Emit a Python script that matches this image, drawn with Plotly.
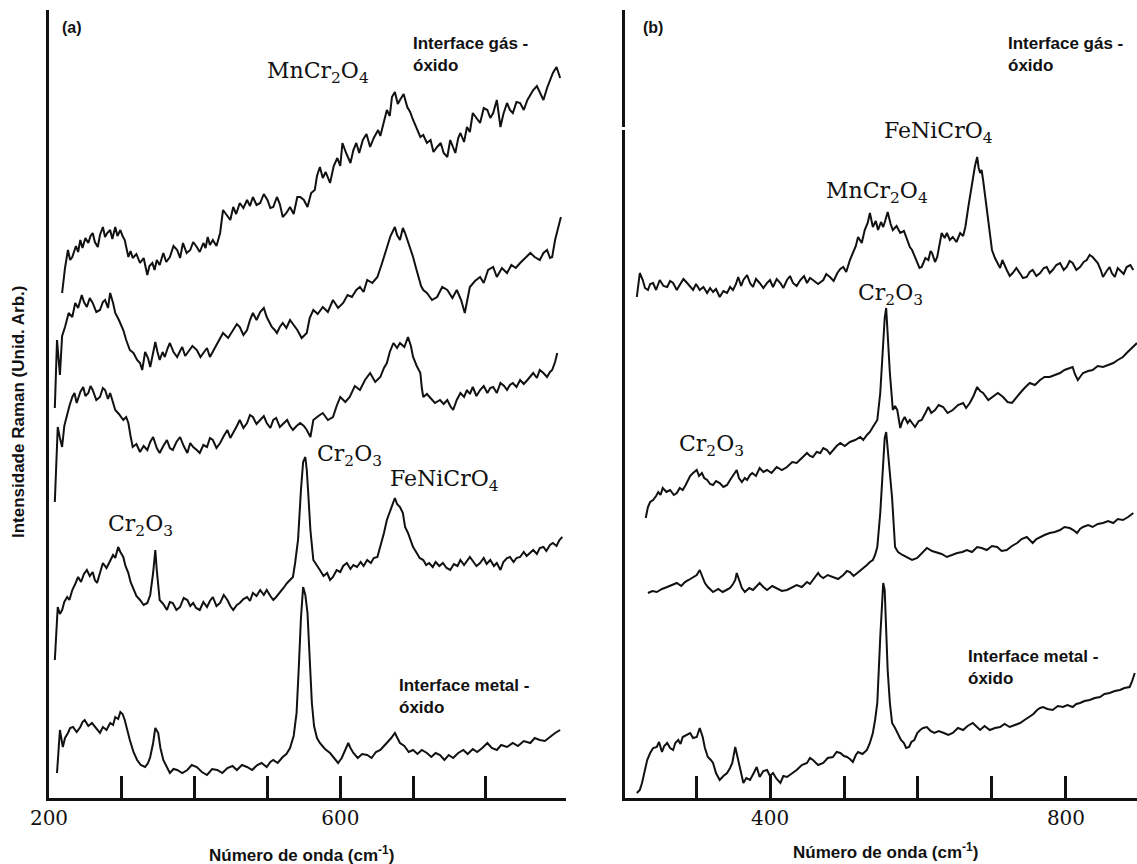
import plotly.graph_objects as go

W, H = 1137, 864

# ---------------- Panel (a): (wavenumber cm-1, intensity arb. units) ----------------
spec_a1 = [(218,505),(222,530),(226,548),(229,538),(232,541),(237,552),(240,546),(243,558),(246,550),(250,560),(254,555),(257,562),(260,565),(263,556),(267,551),(270,563),(274,571),(277,561),(280,565),(284,568),(287,559),(291,571),(294,562),(298,568),(301,562),(304,558),(309,541),(312,547),(315,540),(320,544),(325,535),(330,540),(335,523),(338,532),(342,535),(345,528),(348,538),(352,533),(357,545),(361,536),(366,541),(371,552),(376,548),(380,540),(384,555),(389,545),(394,548),(398,556),(403,551),(407,546),(412,555),(415,550),(418,561),(421,553),(425,558),(430,552),(435,565),(439,588),(444,583),(449,578),(453,591),(457,584),(462,595),(467,590),(472,598),(476,592),(480,601),(485,593),(490,595),(495,604),(500,598),(504,590),(508,591),(513,601),(517,594),(521,581),(526,585),(531,591),(536,584),(541,601),(545,601),(550,598),(555,591),(560,605),(565,608),(568,622),(572,631),(576,620),(580,626),(586,615),(591,632),(596,640),(600,632),(603,655),(608,645),(614,635),(618,648),(622,655),(626,645),(631,658),(636,664),(641,651),(646,660),(652,668),(655,662),(659,675),(664,688),(668,682),(671,701),(675,706),(679,694),(682,698),(687,704),(692,691),(696,686),(700,678),(705,670),(710,661),(714,663),(719,655),(724,658),(728,646),(733,651),(738,655),(742,645),(747,641),(751,658),(755,650),(758,645),(762,660),(765,665),(770,656),(774,671),(778,666),(782,685),(787,680),(792,675),(797,690),(802,688),(806,680),(810,685),(815,698),(820,671),(824,684),(829,695),(833,688),(837,685),(842,696),(847,695),(852,688),(857,698),(861,703),(865,708),(870,712),(875,705),(879,698),(884,710),(888,718),(892,725),(897,731),(902,720)]

spec_a2 = [(208,390),(211,458),(215,423),(218,462),(222,471),(227,485),(232,481),(236,495),(240,490),(245,503),(248,496),(252,491),(256,500),(260,495),(265,486),(270,488),(274,496),(277,498),(281,490),(284,505),(288,495),(291,485),(296,478),(302,468),(306,458),(311,448),(316,445),(321,438),(325,435),(328,428),(332,446),(336,440),(339,431),(343,444),(346,456),(349,446),(352,438),(356,446),(359,441),(363,450),(366,455),(371,446),(376,441),(380,447),(383,451),(387,442),(391,446),(397,452),(403,448),(408,441),(412,445),(417,450),(421,441),(426,448),(431,455),(435,460),(439,465),(446,460),(453,468),(458,474),(462,471),(467,463),(472,468),(476,478),(480,485),(485,478),(490,486),(495,490),(499,481),(503,476),(506,471),(510,468),(513,465),(517,471),(521,475),(526,470),(531,478),(536,473),(541,468),(547,460),(554,465),(558,480),(563,488),(569,484),(576,491),(583,486),(590,498),(597,490),(604,495),(610,503),(616,501),(622,508),(627,511),(632,506),(637,518),(644,515),(651,521),(657,534),(664,551),(669,562),(675,571),(678,563),(682,558),(686,570),(689,565),(694,555),(700,541),(704,530),(707,521),(711,512),(714,508),(719,505),(726,498),(733,501),(740,511),(747,508),(754,500),(760,508),(766,498),(771,485),(775,500),(778,511),(785,517),(792,521),(797,515),(803,528),(810,531),(815,521),(822,530),(829,525),(835,533),(841,530),(847,535),(854,540),(861,545),(867,541),(874,538),(879,545),(884,548),(888,540),(891,541),(895,558),(899,571),(903,581)]

spec_a3 = [(208,296),(212,371),(215,360),(218,351),(221,372),(225,385),(228,392),(232,401),(235,405),(238,395),(243,406),(247,411),(250,402),(254,405),(257,412),(260,408),(265,398),(270,401),(274,410),(277,408),(281,399),(284,405),(288,396),(291,388),(296,384),(302,378),(306,381),(309,375),(312,362),(315,351),(320,354),(325,346),(330,352),(335,348),(339,356),(343,361),(348,350),(352,345),(357,352),(362,358),(366,350),(370,348),(375,356),(380,361),(385,352),(390,345),(394,355),(398,351),(403,348),(407,345),(412,353),(417,351),(421,360),(425,358),(430,350),(435,355),(440,362),(445,368),(449,360),(453,365),(458,372),(462,378),(467,370),(472,375),(476,383),(480,381),(485,374),(490,378),(495,382),(499,375),(504,370),(508,378),(512,380),(517,371),(522,375),(527,378),(531,372),(535,368),(540,372),(545,375),(550,372),(554,368),(559,361),(563,378),(570,382),(576,385),(583,378),(590,381),(595,392),(600,401),(607,396),(613,401),(620,412),(627,408),(634,418),(641,425),(648,416),(655,421),(660,430),(664,435),(668,446),(673,455),(678,450),(682,455),(688,451),(693,461),(697,452),(700,441),(705,432),(710,425),(712,410),(714,401),(719,404),(723,401),(730,395),(737,398),(742,394),(747,398),(751,392),(755,388),(760,398),(765,405),(770,401),(774,408),(778,404),(782,411),(787,402),(792,408),(797,412),(802,405),(806,410),(810,411),(815,405),(820,415),(825,412),(829,408),(833,413),(837,415),(842,411),(847,418),(852,414),(857,418),(861,421),(865,425),(870,420),(874,428),(879,425),(884,421),(888,426),(891,428),(895,436),(898,445)]

spec_a4 = [(208,138),(212,191),(215,184),(218,188),(221,196),(225,201),(228,198),(232,208),(236,214),(240,221),(244,216),(248,224),(252,228),(256,222),(260,226),(263,218),(266,215),(270,226),(274,235),(279,230),(284,238),(288,243),(291,240),(295,251),(298,246),(302,241),(305,232),(309,225),(312,216),(315,211),(320,202),(325,198),(330,193),(335,195),(339,203),(343,225),(346,248),(348,228),(350,210),(352,198),(357,194),(362,188),(366,196),(370,195),(375,188),(380,191),(385,200),(390,198),(394,192),(398,195),(402,190),(407,188),(412,196),(417,191),(421,197),(425,201),(430,192),(435,195),(440,203),(445,198),(449,192),(453,188),(458,193),(462,195),(467,199),(472,201),(476,197),(480,205),(485,202),(490,208),(495,203),(499,208),(504,202),(508,198),(512,201),(517,205),(522,210),(527,215),(531,218),(535,221),(538,235),(542,258),(546,308),(549,336),(552,341),(554,328),(556,305),(559,268),(563,238),(567,233),(572,228),(577,222),(582,225),(586,218),(590,221),(595,228),(600,226),(604,232),(609,235),(614,229),(618,233),(623,231),(628,236),(632,232),(637,238),(642,235),(646,240),(651,241),(655,251),(660,265),(664,278),(668,286),(671,291),(675,300),(678,294),(682,291),(686,285),(689,271),(693,265),(696,258),(700,251),(705,245),(709,240),(714,238),(718,233),(722,235),(727,231),(731,236),(736,232),(741,235),(746,230),(751,228),(756,234),(761,232),(765,238),(770,233),(774,237),(778,241),(783,236),(787,232),(792,235),(797,240),(801,234),(806,238),(811,232),(815,235),(820,228),(824,236),(829,240),(833,241),(838,236),(842,240),(847,241),(852,246),(856,242),(861,245),(865,248),(870,244),(874,250),(879,251),(883,247),(888,253),(892,255),(897,252),(901,258),(905,261)]

spec_a5 = [(211,25),(215,68),(219,51),(222,60),(226,65),(229,70),(233,71),(238,66),(243,71),(246,76),(249,78),(254,72),(259,75),(264,70),(270,65),(274,71),(279,68),(284,75),(288,73),(291,81),(295,79),(298,86),(301,84),(304,78),(307,68),(311,58),(316,46),(321,38),(326,33),(332,31),(336,35),(339,41),(343,55),(346,70),(350,65),(353,50),(357,38),(362,30),(366,25),(371,29),(376,28),(383,25),(390,28),(396,33),(403,31),(410,26),(417,23),(424,29),(431,28),(438,25),(445,30),(452,32),(458,28),(465,33),(472,31),(479,28),(486,33),(492,35),(499,31),(504,36),(508,38),(514,35),(521,41),(526,44),(531,50),(536,62),(540,85),(543,130),(546,180),(549,211),(552,203),(555,185),(558,135),(561,95),(564,72),(568,60),(572,55),(579,49),(586,45),(592,40),(597,35),(602,40),(607,48),(611,55),(614,50),(618,45),(624,40),(630,44),(637,43),(643,40),(649,46),(655,48),(660,52),(664,55),(670,60),(675,65),(678,60),(682,55),(688,52),(694,46),(700,48),(706,44),(712,48),(719,45),(725,41),(731,45),(737,43),(743,38),(749,43),(755,40),(762,45),(769,48),(775,44),(782,49),(788,46),(795,50),(802,55),(808,50),(815,48),(821,53),(829,51),(837,55),(844,52),(852,57),(861,55),(867,60),(874,58),(881,57),(888,61),(895,65),(902,68)]

# ---------------- Panel (b) ----------------
spec_b1 = [(220,501),(224,525),(228,518),(231,510),(235,508),(238,514),(242,515),(246,508),(251,518),(256,512),(261,511),(265,517),(269,515),(274,508),(278,513),(283,519),(288,515),(292,511),(296,508),(300,514),(305,508),(310,511),(315,505),(319,510),(323,506),(327,509),(332,501),(337,507),(342,505),(346,511),(350,508),(354,514),(357,521),(361,512),(364,518),(369,523),(373,515),(377,511),(381,519),(386,515),(391,510),(396,515),(400,518),(404,511),(409,519),(414,515),(418,510),(423,518),(427,522),(431,515),(436,512),(441,518),(446,522),(450,515),(454,520),(458,518),(465,514),(472,518),(476,524),(481,521),(486,517),(491,525),(495,529),(499,531),(503,526),(508,538),(512,545),(516,552),(519,561),(524,555),(528,568),(532,575),(535,585),(539,571),(543,577),(546,568),(550,576),(553,571),(556,578),(559,586),(563,574),(566,568),(571,572),(576,565),(581,567),(585,558),(589,551),(592,548),(596,540),(599,535),(602,530),(605,531),(610,540),(614,538),(617,547),(619,545),(623,536),(626,541),(629,552),(632,565),(636,560),(639,565),(643,558),(647,561),(652,556),(657,565),(661,562),(664,571),(668,591),(671,605),(674,618),(677,632),(680,641),(682,630),(684,625),(686,628),(688,618),(691,600),(693,585),(697,560),(700,548),(704,540),(707,535),(711,530),(714,538),(717,532),(720,528),(724,522),(728,525),(733,530),(738,525),(742,520),(747,521),(751,526),(755,528),(760,522),(765,525),(770,530),(774,531),(778,525),(782,528),(787,533),(792,535),(797,528),(801,531),(805,537),(809,535),(814,528),(819,531),(824,536),(828,538),(832,543),(836,541),(840,538),(843,535),(847,528),(850,521),(855,527),(859,531),(862,525),(866,521),(870,530),(873,528),(878,524),(882,531),(887,533),(891,528)]

spec_b2 = [(232,280),(235,291),(238,296),(242,298),(246,302),(249,306),(252,303),(255,310),(260,306),(265,308),(270,303),(274,305),(278,310),(282,308),(286,313),(289,318),(292,322),(296,325),(301,328),(304,322),(308,325),(311,320),(315,318),(319,314),(323,313),(327,317),(332,315),(337,311),(342,313),(346,318),(349,321),(352,325),(355,328),(358,320),(362,316),(366,320),(369,318),(373,323),(376,325),(381,322),(386,330),(391,326),(396,328),(402,325),(409,331),(416,328),(423,331),(430,336),(436,335),(443,340),(450,345),(454,342),(458,341),(463,346),(468,345),(472,350),(477,348),(481,344),(485,348),(490,352),(495,355),(501,352),(508,356),(515,358),(522,361),(526,358),(531,363),(535,366),(539,371),(542,374),(545,378),(549,405),(552,450),(555,480),(557,490),(559,465),(562,425),(566,388),(569,392),(572,388),(576,370),(579,377),(582,381),(586,375),(589,378),(593,374),(596,371),(601,377),(605,378),(610,385),(614,391),(618,385),(623,388),(628,393),(634,391),(640,385),(647,388),(654,393),(661,395),(665,390),(670,395),(675,402),(680,411),(684,407),(688,405),(695,398),(701,401),(708,405),(715,401),(721,396),(727,395),(733,401),(738,405),(744,410),(751,415),(758,413),(765,418),(771,421),(778,421),(785,423),(792,425),(798,428),(805,430),(809,431),(812,424),(816,418),(820,422),(823,425),(830,427),(836,428),(843,432),(850,431),(857,433),(864,435),(870,438),(877,441),(882,445),(886,448),(891,451),(896,455)]

spec_b3 = [(235,205),(241,207),(247,206),(254,209),(261,211),(268,213),(274,215),(280,212),(285,216),(290,218),(295,220),(301,223),(305,228),(309,221),(312,215),(316,211),(320,208),(323,206),(330,209),(336,206),(341,208),(346,210),(350,214),(353,218),(355,225),(357,220),(359,215),(362,210),(366,206),(372,210),(377,208),(382,212),(386,215),(391,211),(396,208),(403,212),(409,210),(416,207),(423,208),(430,211),(436,213),(443,211),(450,216),(454,214),(458,218),(462,221),(465,225),(468,222),(472,220),(478,223),(485,221),(492,219),(499,223),(504,227),(508,226),(513,222),(518,225),(525,229),(531,233),(535,236),(539,238),(542,243),(545,251),(549,285),(552,330),(555,360),(557,366),(559,348),(562,330),(565,300),(569,251),(573,246),(579,243),(585,241),(592,238),(599,240),(606,246),(612,250),(619,247),(626,245),(632,244),(639,241),(646,243),(653,245),(660,246),(666,248),(673,246),(680,251),(686,250),(693,248),(700,252),(707,251),(713,247),(720,248),(727,252),(734,255),(740,259),(747,261),(751,258),(755,255),(760,259),(765,261),(771,263),(778,265),(785,266),(792,268),(798,271),(805,270),(810,268),(815,265),(819,269),(823,271),(830,273),(836,271),(843,274),(850,275),(857,277),(864,275),(870,279),(877,278),(884,281),(891,285)]

spec_b4 = [(220,5),(224,8),(227,15),(231,28),(234,38),(238,45),(242,50),(247,51),(250,56),(254,46),(257,52),(261,55),(265,50),(269,48),(272,55),(276,58),(279,54),(282,61),(287,63),(292,65),(296,60),(301,61),(305,70),(309,61),(312,50),(316,41),(320,38),(323,35),(327,25),(332,18),(337,22),(342,25),(346,30),(349,35),(353,51),(357,38),(360,25),(364,15),(368,20),(373,18),(378,25),(382,31),(386,21),(391,27),(396,28),(400,22),(404,25),(409,19),(414,15),(418,22),(423,21),(430,25),(436,28),(443,33),(450,35),(454,40),(458,38),(465,33),(472,35),(478,40),(485,41),(490,46),(495,45),(500,42),(504,41),(508,39),(512,36),(516,43),(519,46),(525,44),(531,48),(535,55),(539,65),(542,78),(545,95),(549,161),(553,215),(555,208),(557,170),(559,128),(562,95),(565,75),(569,70),(572,65),(577,58),(581,55),(584,50),(588,51),(591,56),(595,58),(599,65),(603,68),(607,70),(612,71),(617,67),(622,65),(628,67),(635,65),(641,63),(647,65),(654,70),(661,68),(667,72),(674,75),(679,71),(684,68),(690,72),(697,68),(704,70),(711,71),(717,74),(724,71),(731,73),(738,75),(744,78),(751,81),(756,84),(761,88),(765,90),(769,91),(775,89),(782,88),(789,92),(796,91),(802,93),(809,91),(814,94),(819,95),(825,97),(832,98),(839,100),(846,101),(852,104),(859,105),(866,107),(873,108),(879,110),(886,111),(889,116),(893,125)]

# tick values / labels
ticks_a = [200, 300, 400, 500, 600, 700, 800, 910]
ticklabels_a = ["200", "", "", "", "600", "", "", ""]
ticks_b = [300, 400, 500, 600, 700, 800]
ticklabels_b = ["", "400", "", "", "", "800"]

series_a = [spec_a1, spec_a2, spec_a3, spec_a4, spec_a5]
series_b = [spec_b1, spec_b2, spec_b3, spec_b4]

LINE = dict(color="#111111", width=2.0)

fig = go.Figure()
for spec in series_a:
    x, y = zip(*spec)
    fig.add_trace(go.Scatter(x=list(x), y=list(y), mode="lines", line=LINE, xaxis="x", yaxis="y",
                             showlegend=False, hoverinfo="skip"))
for spec in series_b:
    x, y = zip(*spec)
    fig.add_trace(go.Scatter(x=list(x), y=list(y), mode="lines", line=LINE, xaxis="x2", yaxis="y2",
                             showlegend=False, hoverinfo="skip"))


def px(x):
    return x / W


def py(y):
    return 1 - y / H


ydom = [py(798), py(10)]
tickfont = dict(family="DejaVu Serif", size=20, color="#111111")
common_x = dict(showline=True, linewidth=3, linecolor="#111111", showgrid=False, zeroline=False,
                ticks="inside", ticklen=22, tickwidth=2.5, tickcolor="#111111", automargin=False,
                tickmode="array", tickfont=tickfont)
common_y = dict(showline=True, linewidth=3, linecolor="#111111", showgrid=False, zeroline=False,
                showticklabels=False, ticks="", range=[0, 788], domain=ydom, automargin=False)

fig.update_layout(
    template="none",
    width=W, height=H,
    margin=dict(l=0, r=0, t=0, b=0, pad=0, autoexpand=False),
    paper_bgcolor="white", plot_bgcolor="white",
    xaxis=dict(domain=[px(49), px(566)], range=[200, 910], tickvals=ticks_a, ticktext=ticklabels_a,
               anchor="y", **common_x),
    yaxis=dict(anchor="x", **common_y),
    xaxis2=dict(domain=[px(625), 1.0], range=[204, 896], tickvals=ticks_b, ticktext=ticklabels_b,
                anchor="y2", **common_x),
    yaxis2=dict(anchor="x2", **common_y),
)

serif = dict(family="DejaVu Serif", size=22, color="#111111")
bold = dict(family="Liberation Sans", size=17, color="#111111")
bold_small = dict(family="Liberation Sans", size=16, color="#111111")

ann = []


def add(text, x, y, font, xanchor="center", yanchor="middle", align="center", angle=0):
    ann.append(dict(text=text, x=px(x), y=py(y), xref="paper", yref="paper", showarrow=False,
                    font=font, xanchor=xanchor, yanchor=yanchor, align=align, textangle=angle))


# chemical labels
add("MnCr<sub>2</sub>O<sub>4</sub>", 318, 73, serif)
add("Cr<sub>2</sub>O<sub>3</sub>", 349, 455, serif)
add("FeNiCrO<sub>4</sub>", 444, 480, serif)
add("Cr<sub>2</sub>O<sub>3</sub>", 140, 525, serif)
add("MnCr<sub>2</sub>O<sub>4</sub>", 877, 192, serif)
add("FeNiCrO<sub>4</sub>", 938, 133, serif)
add("Cr<sub>2</sub>O<sub>3</sub>", 891, 294, serif)
add("Cr<sub>2</sub>O<sub>3</sub>", 711, 445, serif)

# interface labels
add("<b>Interface gás -<br>óxido</b>", 411, 32, bold, xanchor="left", yanchor="top", align="left")
add("<b>Interface gás -<br>óxido</b>", 1006, 32, bold, xanchor="left", yanchor="top", align="left")
add("<b>Interface metal -<br>óxido</b>", 397, 674, bold, xanchor="left", yanchor="top", align="left")
add("<b>Interface metal -<br>óxido</b>", 966, 645, bold, xanchor="left", yanchor="top", align="left")

# panel letters
add("<b>(a)</b>", 72, 27, bold_small)
add("<b>(b)</b>", 653, 27, bold_small)

# axis titles
add("<b>Número de onda (cm<sup>-1</sup>)</b>", 301, 854, bold)
add("<b>Número de onda (cm<sup>-1</sup>)</b>", 885, 851, bold)
add("<b>Intensidade Raman (Unid. Arb.)</b>", 18, 412, bold, angle=-90)

fig.update_layout(annotations=ann)

# small break in the left axis of panel (b)
fig.add_shape(type="rect", xref="paper", yref="paper", x0=px(619), x1=px(630), y0=py(130), y1=py(127),
              fillcolor="white", line=dict(width=0), layer="above")

fig.write_html("out.html")
